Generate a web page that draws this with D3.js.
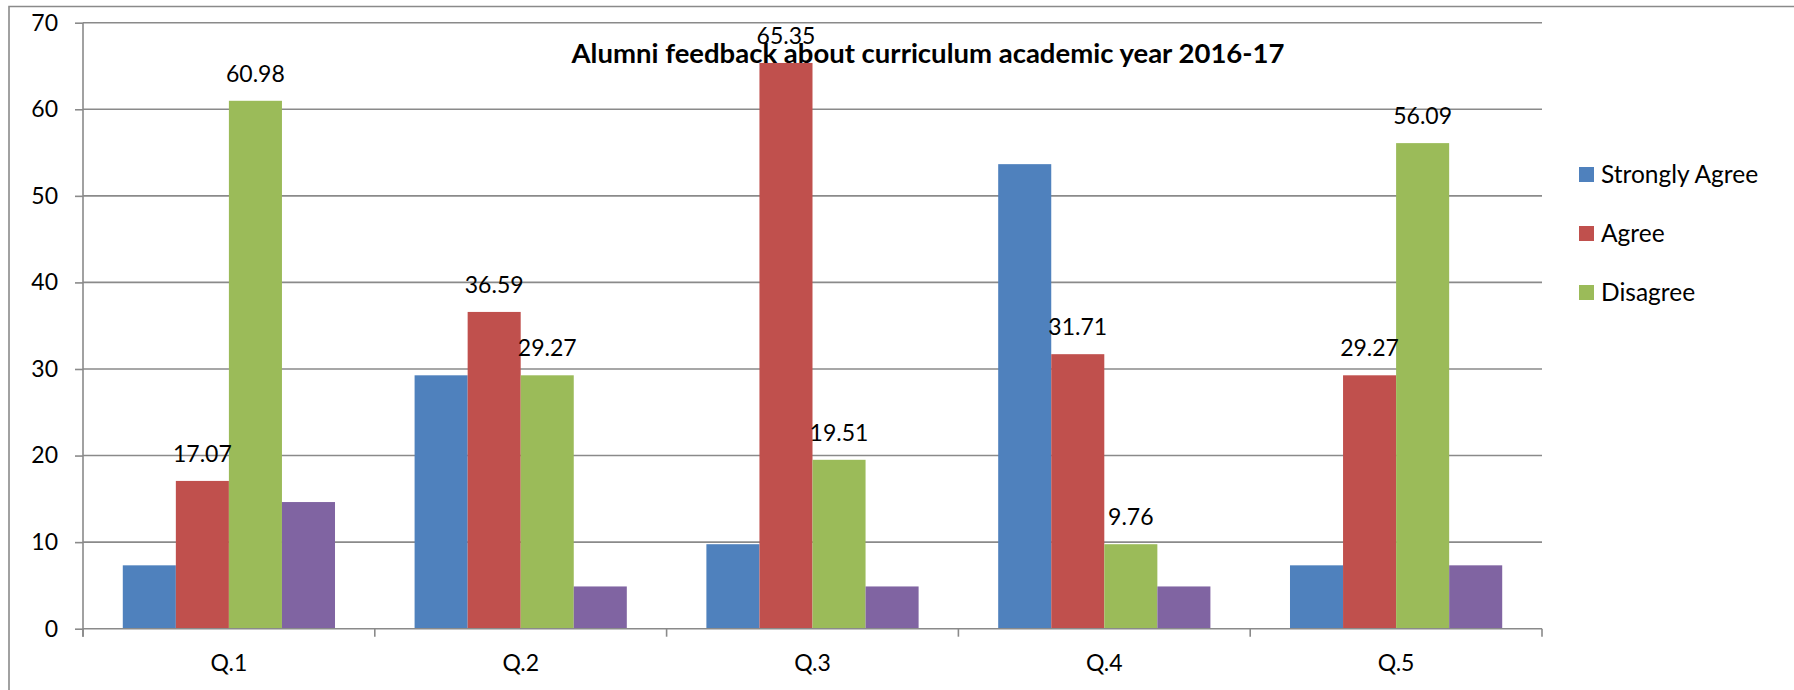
<!DOCTYPE html>
<html>
<head>
<meta charset="utf-8">
<script src="https://cdn.jsdelivr.net/npm/d3@7"></script>
<style>
  html, body { margin: 0; padding: 0; background: #fff; }
  svg { display: block; }
  text { font-family: Lato, "Open Sans", sans-serif; fill: #000; }
</style>
</head>
<body>
<svg id="chart" width="1794" height="690"></svg>
<script>
// ---- data ----
const categories = ["Q.1", "Q.2", "Q.3", "Q.4", "Q.5"];
const seriesNames = ["Strongly Agree", "Agree", "Disagree", "Other"];
const stronglyAgree = [7.32, 29.27, 9.76, 53.66, 7.32];
const agree = [17.07, 36.59, 65.35, 31.71, 29.27];
const disagree = [60.98, 29.27, 19.51, 9.76, 56.09];
const other = [14.63, 4.88, 4.88, 4.88, 7.32];
const legendNames = ["Strongly Agree", "Agree", "Disagree"];
const labeledSeries = ["Agree", "Disagree"];
const yTicks = [0, 10, 20, 30, 40, 50, 60, 70];
const title = "Alumni feedback about curriculum academic year 2016-17";

const seriesValues = [stronglyAgree, agree, disagree, other];
const colors = ["#4F81BD", "#C0504D", "#9BBB59", "#8064A2"];

// ---- layout ----
const svg = d3.select("#chart");
const plot = { left: 83, right: 1542, top: 22.7, bottom: 628.7 };
const gridColor = "#8a8a8a";

// outer frame (partial border)
svg.append("path")
  .attr("d", "M9,690 L9,6.5 L1794,6.5")
  .attr("fill", "none").attr("stroke", gridColor).attr("stroke-width", 1.6);

const x0 = d3.scaleBand().domain(categories).range([plot.left, plot.right]).padding(0);
const x1 = d3.scaleBand().domain(seriesNames).range([0, x0.bandwidth()])
  .paddingInner(0).paddingOuter(0.75);
const y = d3.scaleLinear().domain([0, 70]).range([plot.bottom, plot.top]);

// gridlines
svg.append("g").selectAll("line").data(yTicks.filter(d => d > 0)).join("line")
  .attr("x1", plot.left).attr("x2", plot.right)
  .attr("y1", d => y(d)).attr("y2", d => y(d))
  .attr("stroke", gridColor).attr("stroke-width", 1.6);

// y axis
const yAxis = svg.append("g").attr("transform", `translate(${plot.left},0)`)
  .call(d3.axisLeft(y).tickValues(yTicks).tickSize(8).tickPadding(17).tickFormat(d3.format("d")));
yAxis.select(".domain").attr("stroke", gridColor).attr("stroke-width", 1.6)
  .attr("d", `M0,${plot.top}V${plot.bottom + 8}`);
yAxis.selectAll(".tick line").attr("stroke", gridColor).attr("stroke-width", 1.6);
yAxis.selectAll(".tick text").style("font-size", "23px").style("font-family", "Lato").attr("fill", "#000");

// bars
const data = categories.map((c, i) => ({ cat: c, vals: seriesNames.map((s, j) => ({ s, j, v: seriesValues[j][i] })) }));
const groups = svg.append("g").selectAll("g").data(data).join("g")
  .attr("transform", d => `translate(${x0(d.cat)},0)`);
groups.selectAll("rect").data(d => d.vals).join("rect")
  .attr("x", d => x1(d.s)).attr("width", x1.bandwidth())
  .attr("y", d => y(d.v)).attr("height", d => y(0) - y(d.v))
  .attr("fill", d => colors[d.j]);

// data labels
groups.selectAll("text.lbl").data(d => d.vals.filter(v => labeledSeries.includes(v.s))).join("text")
  .attr("class", "lbl")
  .attr("x", d => x1(d.s) + x1.bandwidth() / 2)
  .attr("y", d => y(d.v) - 19)
  .attr("text-anchor", "middle")
  .style("font-size", "23px")
  .text(d => d.v.toFixed(2));

// x axis
const xAxisG = svg.append("g");
xAxisG.append("line").attr("x1", plot.left).attr("x2", plot.right)
  .attr("y1", y(0)).attr("y2", y(0)).attr("stroke", gridColor).attr("stroke-width", 1.6);
const boundaries = categories.map(c => x0(c) + x0.bandwidth()).concat([plot.left]);
xAxisG.selectAll("line.tk").data(boundaries).join("line").attr("class", "tk")
  .attr("x1", d => d).attr("x2", d => d).attr("y1", y(0)).attr("y2", y(0) + 8)
  .attr("stroke", gridColor).attr("stroke-width", 1.6);
xAxisG.selectAll("text").data(categories).join("text")
  .attr("x", d => x0(d) + x0.bandwidth() / 2).attr("y", 671)
  .attr("text-anchor", "middle").style("font-size", "23px").text(d => d);

// title
svg.append("text").attr("x", 928).attr("y", 63)
  .attr("text-anchor", "middle").style("font-size", "27.5px").style("font-weight", "bold")
  .text(title);

// legend
const legend = svg.append("g").selectAll("g").data(legendNames).join("g")
  .attr("transform", (d, i) => `translate(1579,${174.5 + i * 59})`);
legend.append("rect").attr("x", 0).attr("y", -7.5).attr("width", 15).attr("height", 15)
  .attr("fill", (d, i) => colors[i]);
legend.append("text").attr("x", 22).attr("y", 0).attr("dy", "0.36em")
  .style("font-size", "24.5px").text(d => d);
</script>
</body>
</html>
